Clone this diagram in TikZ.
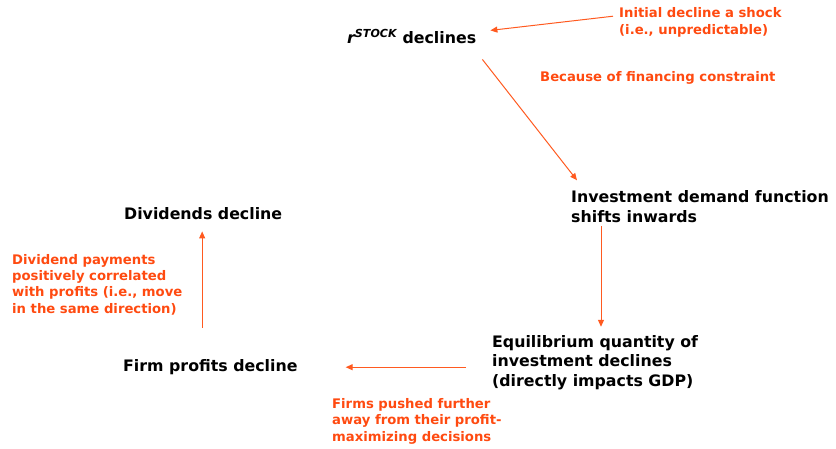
\documentclass[tikz,border=0pt]{standalone}
\usepackage{fontspec}
\setmainfont{DejaVu Sans}
\usetikzlibrary{arrows.meta,calc}
\definecolor{lbl}{HTML}{FF4A10}
\definecolor{arr}{HTML}{FF5A20}
\tikzset{
  main/.style={font=\bfseries\fontsize{15.8}{19.5}\selectfont, text=black, inner sep=0pt, align=left, anchor=base west},
  note/.style={font=\bfseries\fontsize{13.2}{16.3}\selectfont, text=lbl, inner sep=0pt, align=left, anchor=base west},
  flow/.style={draw=arr, line width=1pt, -{Triangle[length=7pt,width=6pt]}}
}
\begin{document}
\begin{tikzpicture}[x=1pt,y=-1pt]
\useasboundingbox (0,0) rectangle (836,448);
\node[main] (rs) at (347,43) {{\itshape r\textsuperscript{STOCK}} declines};
\node[main] (inv) at (571,222) {Investment demand function\\shifts inwards};
\node[main] (eq) at (492,386) {Equilibrium quantity of\\investment declines\\(directly impacts GDP)};
\node[main] (fp) at (123,371) {Firm profits decline};
\node[main] (dd) at (124,219) {Dividends decline};
\node[note] (shock) at (619,34) {Initial decline a shock\\(i.e., unpredictable)};
\node[note] (fin) at (540,81) {Because of financing constraint};
\node[note] (corr) at (12,313) {Dividend payments\\positively correlated\\with profits (i.e., move\\in the same direction)};
\node[note] (push) at (332,441) {Firms pushed further\\away from their profit-\\maximizing decisions};
\coordinate (s4) at ([shift={(-26,5)}]eq.west);
\draw[flow] ([shift={(-6,-6)}]shock.west) -- ([shift={(14,-6)}]rs.east);
\draw[flow] ([shift={(6,16)}]rs.south east) -- ([shift={(6,-10)}]inv.north west);
\draw[flow] ([shift={(30,4)}]inv.south west) -- ([shift={(109,-8)}]eq.north west);
\draw[flow] (s4) -- ($(fp.east |- s4)+(48,0)$);
\draw[flow] ($(dd.south |- fp.north)+(-1,-31)$) -- ($(dd.south)+(-1,12)$);
\end{tikzpicture}
\end{document}
